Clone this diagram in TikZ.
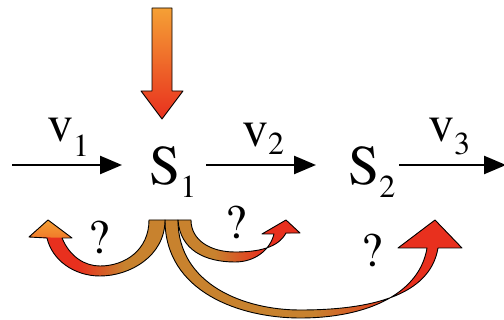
\documentclass[tikz,border=0pt]{standalone}
\usepackage{fontspec}
\newfontfamily\tnr{texgyretermes-regular.otf}
\usetikzlibrary{arrows.meta}
\definecolor{brn}{HTML}{C8822E}
\definecolor{rd}{HTML}{E8301E}
\definecolor{org}{HTML}{F5A035}
\definecolor{orgred}{HTML}{F07A2A}
\pgfdeclarehorizontalshading{longsh}{100bp}{color(0bp)=(brn);color(25bp)=(brn);color(50bp)=(brn);color(65bp)=(rd);color(100bp)=(rd)}
\pgfdeclarehorizontalshading{rightsh}{100bp}{color(0bp)=(brn);color(25bp)=(brn);color(40bp)=(brn);color(60bp)=(rd);color(100bp)=(rd)}
\pgfdeclarehorizontalshading{leftsh}{100bp}{color(0bp)=(rd);color(25bp)=(rd);color(43bp)=(rd);color(60bp)=(brn);color(100bp)=(brn)}
\pgfdeclareverticalshading{downsh}{100bp}{color(0bp)=(rd);color(25bp)=(rd);color(75bp)=(org);color(100bp)=(org)}
\pgfdeclareverticalshading{headsh}{100bp}{color(0bp)=(orgred);color(25bp)=(orgred);color(75bp)=(org);color(100bp)=(org)}
\pgfdeclareverticalshading{redhead}{100bp}{color(0bp)=(rd);color(100bp)=(rd)}
\begin{document}
\begin{tikzpicture}[x=1pt,y=-1pt,
  flow/.style={line width=2.5pt,-{Triangle[length=22pt,width=18pt]}},
  outline/.style={draw=black,line width=0.9pt,line join=round},
  big/.style={inner sep=0pt,anchor=base west,font=\tnr\fontsize{52}{52}\selectfont},
  bigS/.style={inner sep=0pt,anchor=base west,font=\tnr\fontsize{56}{56}\selectfont},
  qmark/.style={inner sep=0pt,font=\tnr\fontsize{48}{48}\selectfont}]
\useasboundingbox (0,0) rectangle (504,320);
\newcommand{\sbs}[2]{\raisebox{-#1pt}{\tnr\fontsize{32}{32}\selectfont #2}}
% down arrow
\shade[shading=downsh,outline] (152,8)--(172,8)--(172,91)--(183,91)--(162,119)--(141,91)--(152,91)--cycle;
% labels
\node[big] (v1) at (47,142) {v\sbs{15}{1}};
\node[bigS] (S1) at (149,185) {S\sbs{13}{1}};
\node[big] (v2) at (242,147) {v\sbs{8}{2}};
\node[bigS] (S2) at (348,185) {S\sbs{13}{2}};
\node[big] (v3) at (428,142) {v\sbs{13}{3}};
% straight arrows
\coordinate (in1) at (12,165);
\coordinate (to1) at (122,165);
\coordinate (fr2) at (206,165);
\coordinate (to2) at (316,165);
\coordinate (fr3) at (399,165);
\coordinate (out3) at (506,165);
\draw[flow] (in1) -- (to1);
\draw[flow] (fr2) -- (to2);
\draw[flow] (fr3) -- (out3);
% long curved arrow
\def\longpath{(165,220) .. controls (165,292) and (240,318) .. (300,318) .. controls (370,318) and (420,292) .. (427,248)
  -- (398,248) -- (435,220) -- (462,248) -- (438,248)
  .. controls (430,296) and (370,310) .. (300,310) .. controls (245,310) and (178,285) .. (178,220) -- cycle}
\shade[shading=longsh] \longpath;
\shade[shading=redhead] (398,248) -- (435,220) -- (462,248) -- cycle;
\draw[outline] \longpath;
% left curved arrow
\def\leftpath{(165,220) .. controls (165,256) and (130,276) .. (100,276) .. controls (74,276) and (52,260) .. (47,238)
  -- (29,237) -- (48,220) -- (72,238) -- (62,238)
  .. controls (70,257) and (85,266) .. (100,266) .. controls (125,266) and (149,250) .. (149,220) -- cycle}
\shade[shading=leftsh] \leftpath;
\shade[shading=headsh] (29,237) -- (48,220) -- (72,238) -- cycle;
\draw[outline] \leftpath;
% right small curved arrow
\def\rightpath{(178,220) .. controls (180,250) and (205,262) .. (235,262) .. controls (255,262) and (270,250) .. (274,234)
  -- (262,234) -- (286,220) -- (300,233) -- (286,233)
  .. controls (278,248) and (258,252) .. (235,252) .. controls (210,252) and (191,240) .. (191,220) -- cycle}
\shade[shading=rightsh] \rightpath;
\shade[shading=redhead] (262,234) -- (286,220) -- (300,233) -- cycle;
\draw[outline] \rightpath;
% question marks
\node[qmark] (q1) at (99,237) {?};
\node[qmark] (q2) at (236,222) {?};
\node[qmark] (q3) at (372,250) {?};
\end{tikzpicture}
\end{document}
